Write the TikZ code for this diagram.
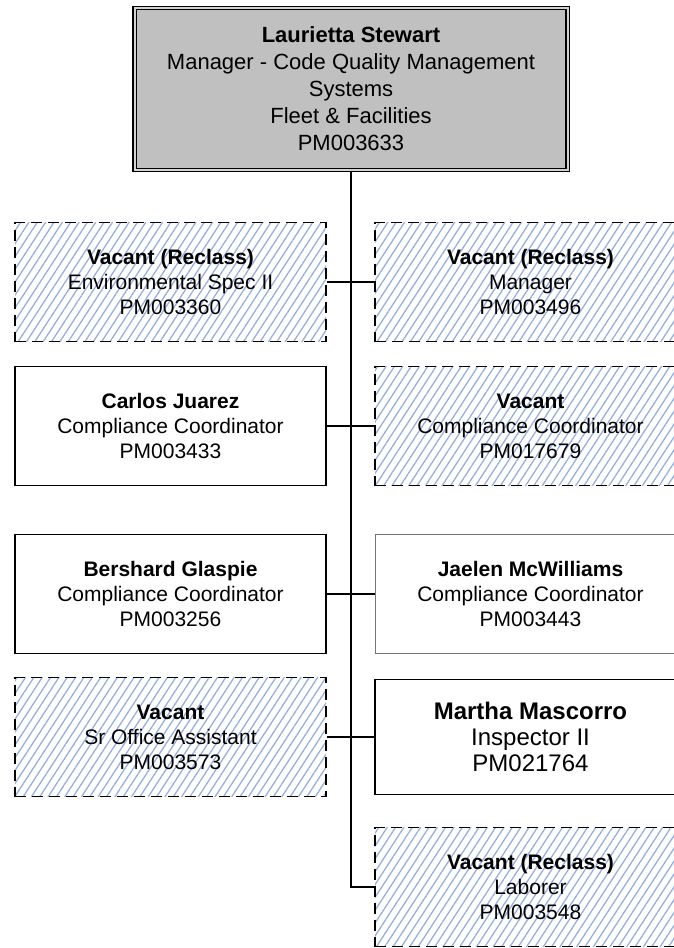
\documentclass[tikz,border=0pt]{standalone}
\usepackage{fontspec}
\setmainfont{Liberation Sans}
\usepackage{xcolor}
\usepackage{tikz}
\usetikzlibrary{positioning,patterns.meta}

\definecolor{boss gray}{RGB}{192,192,192}
\definecolor{hatch blue}{RGB}{150,176,222}
\definecolor{soft edge}{RGB}{118,118,118}

\begin{document}
\begin{tikzpicture}[x=1pt,y=-1pt,node distance=360pt,auto,
                      main node/.style={rectangle,draw,line width=1.5pt,minimum width=311pt,minimum height=119pt,
                                        inner sep=0pt,align=center,font=\fontsize{21pt}{25pt}\selectfont},
                      vacant node/.style={main node,line width=1.8pt,dash pattern=on 11pt off 6pt,
                                          pattern={Lines[angle=57,distance=7pt,line width=1.3pt]},pattern color=hatch blue},
                      boss node/.style={main node,fill=boss gray,minimum width=433pt,minimum height=162pt,
                                        line width=1.2pt,double=boss gray!70,double distance=2pt,
                                        font=\fontsize{22pt}{27pt}\selectfont},
                      link/.style={line width=1.6pt}]

    \useasboundingbox (0,0) rectangle (674,948);
    \clip (0,0) rectangle (674,948);

    \node[boss node] (stewart) at (351,89) {\textbf{Laurietta Stewart}\\Manager - Code Quality Management\\Systems\\Fleet \& Facilities\\PM003633};

    \node[vacant node] (envspec) at (170.5,282) {\textbf{Vacant (Reclass)}\\Environmental Spec II\\PM003360};
    \node[vacant node] (manager) [right of=envspec] {\textbf{Vacant (Reclass)}\\Manager\\PM003496};
    \node[main node] (juarez) at (170.5,426) {\textbf{Carlos Juarez}\\Compliance Coordinator\\PM003433};
    \node[vacant node] (coordvac) [right of=juarez] {\textbf{Vacant}\\Compliance Coordinator\\PM017679};
    \node[main node] (glaspie) at (170.5,594) {\textbf{Bershard Glaspie}\\Compliance Coordinator\\PM003256};
    \node[main node,draw=soft edge,line width=1pt] (mcwilliams) [right of=glaspie] {\textbf{Jaelen McWilliams}\\Compliance Coordinator\\PM003443};
    \node[vacant node] (office) at (170.5,737) {\textbf{Vacant}\\Sr Office Assistant\\PM003573};
    \node[main node,line width=1.8pt,minimum height=115pt,font=\fontsize{24pt}{26pt}\selectfont] (mascorro) [right of=office] {\textbf{Martha Mascorro}\\Inspector II\\PM021764};
    \node[vacant node] (laborer) at (530.5,887) {\textbf{Vacant (Reclass)}\\Laborer\\PM003548};

    \draw[link] (stewart.south) -- (stewart.south |- laborer.west) -- (laborer.west);
    \draw[link] (envspec) -- (manager);
    \draw[link] (juarez) -- (coordvac);
    \draw[link] (glaspie) -- (mcwilliams);
    \draw[link] (office) -- (mascorro);

\end{tikzpicture}
\end{document}
